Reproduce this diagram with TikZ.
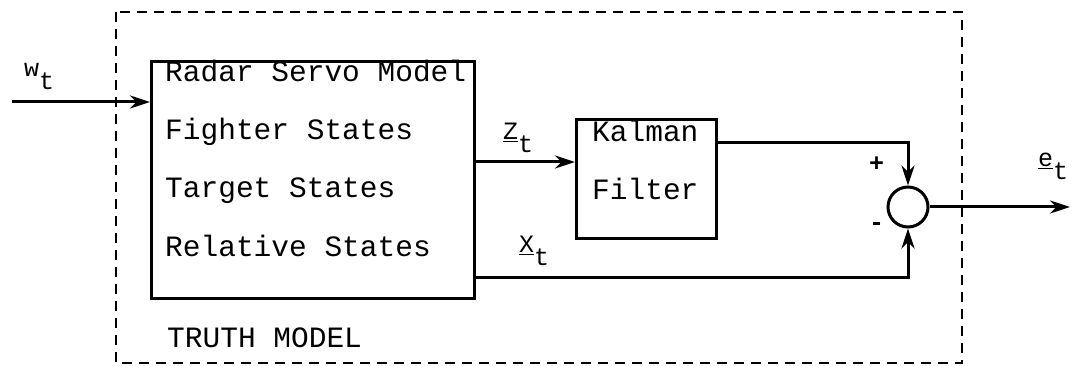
\documentclass[tikz,border=0pt]{standalone}
\usepackage{fontspec}
\setmainfont{Liberation Mono}
\usetikzlibrary{arrows.meta}
\tikzset{
  blk/.style={draw, line width=3pt, rectangle, inner sep=0pt, anchor=north west},
  sumc/.style={draw, line width=3pt, circle, minimum size=40pt, inner sep=0pt},
  txt/.style={anchor=base west, inner sep=0pt, font=\fontsize{29.5}{29}\selectfont},
  lbl/.style={anchor=base west, inner sep=0pt, font=\fontsize{25}{25}\selectfont},
  arr/.style={line width=3pt, -{Stealth[length=20pt,width=13pt]}},
  frame/.style={line width=2pt, dash pattern=on 10pt off 7pt}
}
\newcommand{\sbt}[1]{\raisebox{-13pt}{#1}}
\begin{document}
\begin{tikzpicture}[x=1pt,y=-1pt]
\useasboundingbox (0,0) rectangle (1072,366);
% frame
\draw[frame] (116,12) rectangle (962,363);
% blocks
\node[blk, minimum width=323pt, minimum height=237pt] (main) at (150,60) {};
\node[blk, minimum width=140pt, minimum height=119pt] (kal) at (575,118) {};
\node[sumc] (sum) at (908,207) {};
% texts
\node[txt] (t1) at (165,82) {Radar Servo Model};
\node[txt] (t2) at (165,140) {Fighter States};
\node[txt] (t3) at (165,198) {Target States};
\node[txt] (t4) at (165,257) {Relative States};
\node[txt] (k1) at (592,142) {Kalman};
\node[txt] (k2) at (592,200) {Filter};
\node[txt] (tm) at (167,348) {TRUTH MODEL};
% labels
\node[lbl] (wl) at (24,77) {w\sbt{t}};
\node[lbl] (zl) at (503,140) {\underline{Z}\sbt{t}};
\node[lbl] (xl) at (519,253) {\underline{X}\sbt{t}};
\node[lbl] (el) at (1038,167) {\underline{e}\sbt{t}};
\node[lbl, font=\fontsize{25}{25}\bfseries] (plus) at (869,172) {+};
\node[lbl, font=\fontsize{25}{25}\bfseries] (minus) at (869,231) {-};
% connectors
\coordinate (win) at (12,102);
\coordinate (eout) at (1070,207);
\draw[arr] (win) -- (win -| main.west);
\draw[arr] (main.east |- 0,162) -- (kal.west |- 0,162);
\draw[arr] (kal.east |- 0,143) -| (sum.north);
\draw[arr] (main.east |- 0,278) -| (sum.south);
\draw[arr] (sum.east) -- (eout);
\end{tikzpicture}
\end{document}
